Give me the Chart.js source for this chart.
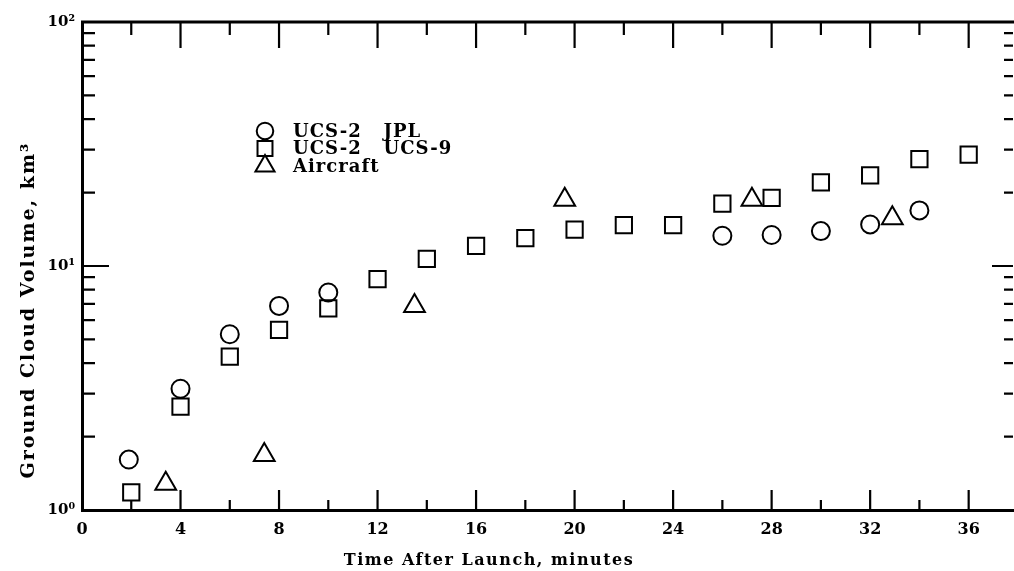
<!DOCTYPE html>
<html>
<head>
<meta charset="utf-8">
<script src="https://cdn.jsdelivr.net/npm/chart.js"></script>
<style>
  html, body { margin: 0; padding: 0; background: #fff; overflow: hidden; }
  canvas { display: block; }
</style>
</head>
<body>
<canvas id="cloud_chart" width="1014" height="571"></canvas>
<script>
// values
const jplX = [1.9, 4, 6, 8, 10, 26, 28, 30, 32, 34];
const jplY = [1.61, 3.14, 5.25, 6.86, 7.79, 13.3, 13.4, 13.9, 14.8, 16.9];

const ucs9X = [2, 4, 6, 8, 10, 12, 14, 16, 18, 20, 22, 24, 26, 28, 30, 32, 34, 36];
const ucs9Y = [1.18, 2.65, 4.25, 5.47, 6.70, 8.84, 10.7, 12.1, 13.0, 14.1, 14.7, 14.7, 18.0, 19.0, 22.0, 23.5, 27.4, 28.6];

const aircraftX = [3.4, 7.4, 13.5, 19.6, 27.2, 32.9];
const aircraftY = [1.28, 1.68, 6.85, 18.7, 18.7, 15.7];

const seriesLabels = ['UCS-2   JPL', 'UCS-2   UCS-9', 'Aircraft'];

const xTicks = [0, 2, 4, 6, 8, 10, 12, 14, 16, 18, 20, 22, 24, 26, 28, 30, 32, 34, 36];
const yTicks = [1, 2, 3, 4, 5, 6, 7, 8, 9, 10, 20, 30, 40, 50, 60, 70, 80, 90, 100];
const yMajor = [1, 10, 100];
const yTickLabels = ['10\u2070', '10\u00B9', '10\u00B2'];

const xTitle = 'Time After Launch, minutes';
const yTitle = 'Ground Cloud Volume, km\u00B3';

const FONT = 'DejaVu Serif';

function points(xs, ys) {
  return xs.map((x, i) => ({x: x, y: ys[i]}));
}

// inward tick marks on all four sides + top frame line
const frameTicks = {
  id: 'frameTicks',
  afterDraw(chart) {
    const ctx = chart.ctx;
    const a = chart.chartArea;
    const x = chart.scales.x, y = chart.scales.y;
    ctx.save();
    ctx.strokeStyle = '#000';
    ctx.lineWidth = 3;
    ctx.beginPath();
    ctx.moveTo(a.left - 1, a.top);
    ctx.lineTo(a.right + 2, a.top);
    ctx.stroke();
    ctx.lineWidth = 2.2;
    x.ticks.forEach(t => {
      const px = x.getPixelForValue(t.value);
      const major = t.value % 4 === 0;
      if (t.value === 0) return;
      ctx.beginPath();
      ctx.moveTo(px, a.bottom);
      ctx.lineTo(px, a.bottom - (major ? 20 : 10));
      ctx.moveTo(px, a.top);
      ctx.lineTo(px, a.top + (major ? 26 : 13));
      ctx.stroke();
    });
    y.ticks.forEach(t => {
      if (t.value === 1 || t.value === 100) return;
      const py = y.getPixelForValue(t.value);
      const major = yMajor.includes(t.value);
      ctx.beginPath();
      ctx.moveTo(a.left, py);
      ctx.lineTo(a.left + (major ? 27 : 13), py);
      ctx.moveTo(a.right, py);
      ctx.lineTo(a.right - (major ? 21 : 9), py);
      ctx.stroke();
    });
    ctx.restore();
  }
};

// axis titles placed where the scan has them
const axisTitles = {
  id: 'axisTitles',
  afterDraw(chart) {
    const ctx = chart.ctx;
    ctx.save();
    ctx.fillStyle = '#000';
    ctx.letterSpacing = '1.5px';
    ctx.textAlign = 'center';
    ctx.textBaseline = 'middle';
    ctx.font = 'bold 16px "' + FONT + '"';
    ctx.fillText(xTitle, 489, 561);
    ctx.translate(29, 310);
    ctx.rotate(-Math.PI / 2);
    ctx.letterSpacing = '2px';
    ctx.font = 'bold 19px "' + FONT + '"';
    ctx.fillText(yTitle, 0, 0);
    ctx.restore();
  }
};

// legend inside the plot, top left
const boxLegend = {
  id: 'boxLegend',
  afterDraw(chart) {
    const ctx = chart.ctx;
    ctx.save();
    ctx.font = 'bold 18px "' + FONT + '"';
    ctx.letterSpacing = '1px';
    ctx.textAlign = 'left';
    ctx.textBaseline = 'middle';
    chart.data.datasets.forEach((ds, i) => {
      const yy = 131 + i * 17.5;
      ctx.strokeStyle = '#000';
      ctx.fillStyle = 'rgba(0,0,0,0)';
      ctx.lineWidth = 2;
      Chart.helpers.drawPoint(ctx, {
        pointStyle: ds.pointStyle,
        radius: ds.pointRadius * 0.92,
        rotation: 0,
        borderWidth: 2
      }, 265, yy);
      ctx.fillStyle = '#000';
      ctx.fillText(ds.label, 293, yy + 1);
    });
    ctx.restore();
  }
};

const ctx = document.getElementById('cloud_chart');
const myChart = new Chart(ctx, {
  type: 'scatter',
  data: {
    datasets: [
      {
        label: seriesLabels[0],
        data: points(jplX, jplY),
        pointStyle: 'circle',
        pointRadius: 9,
        borderWidth: 2,
        borderColor: '#000',
        backgroundColor: 'rgba(0,0,0,0)',
      },
      {
        label: seriesLabels[1],
        data: points(ucs9X, ucs9Y),
        pointStyle: 'rect',
        pointRadius: 11.5,
        borderWidth: 2,
        borderColor: '#000',
        backgroundColor: 'rgba(0,0,0,0)',
      },
      {
        label: seriesLabels[2],
        data: points(aircraftX, aircraftY),
        pointStyle: 'triangle',
        pointRadius: 12,
        borderWidth: 2,
        borderColor: '#000',
        backgroundColor: 'rgba(0,0,0,0)',
      },
    ],
  },
  options: {
    responsive: false,
    animation: false,
    devicePixelRatio: 1,
    layout: {
      autoPadding: false,
      padding: {top: 22, right: 1, left: 0, bottom: 0}
    },
    plugins: {
      legend: {display: false},
      tooltip: {enabled: false}
    },
    scales: {
      x: {
        type: 'linear',
        min: 0,
        max: 37.8,
        afterFit: s => {
          s.height = 61;
          s.paddingLeft = 0;
          s.paddingRight = 0;
        },
        afterBuildTicks: s => { s.ticks = xTicks.map(v => ({value: v})); },
        grid: {display: false, drawTicks: false},
        border: {display: true, color: '#000', width: 3},
        ticks: {
          autoSkip: false,
          maxRotation: 0,
          padding: 10,
          color: '#000',
          font: {family: FONT, weight: 'bold', size: 16},
          callback: v => (v % 4 === 0 ? String(v) : '')
        }
      },
      y: {
        type: 'logarithmic',
        min: 1,
        max: 100,
        afterFit: s => {
          s.width = 82;
          s.paddingTop = 0;
          s.paddingBottom = 0;
        },
        afterBuildTicks: s => { s.ticks = yTicks.map(v => ({value: v})); },
        grid: {display: false, drawTicks: false},
        border: {display: true, color: '#000', width: 3},
        ticks: {
          autoSkip: false,
          padding: 7,
          color: '#000',
          font: {family: FONT, weight: 'bold', size: 15},
          callback: v => {
            const i = yMajor.indexOf(v);
            return i >= 0 ? yTickLabels[i] : '';
          }
        }
      }
    }
  },
  plugins: [frameTicks, axisTitles, boxLegend]
});
</script>
</body>
</html>
